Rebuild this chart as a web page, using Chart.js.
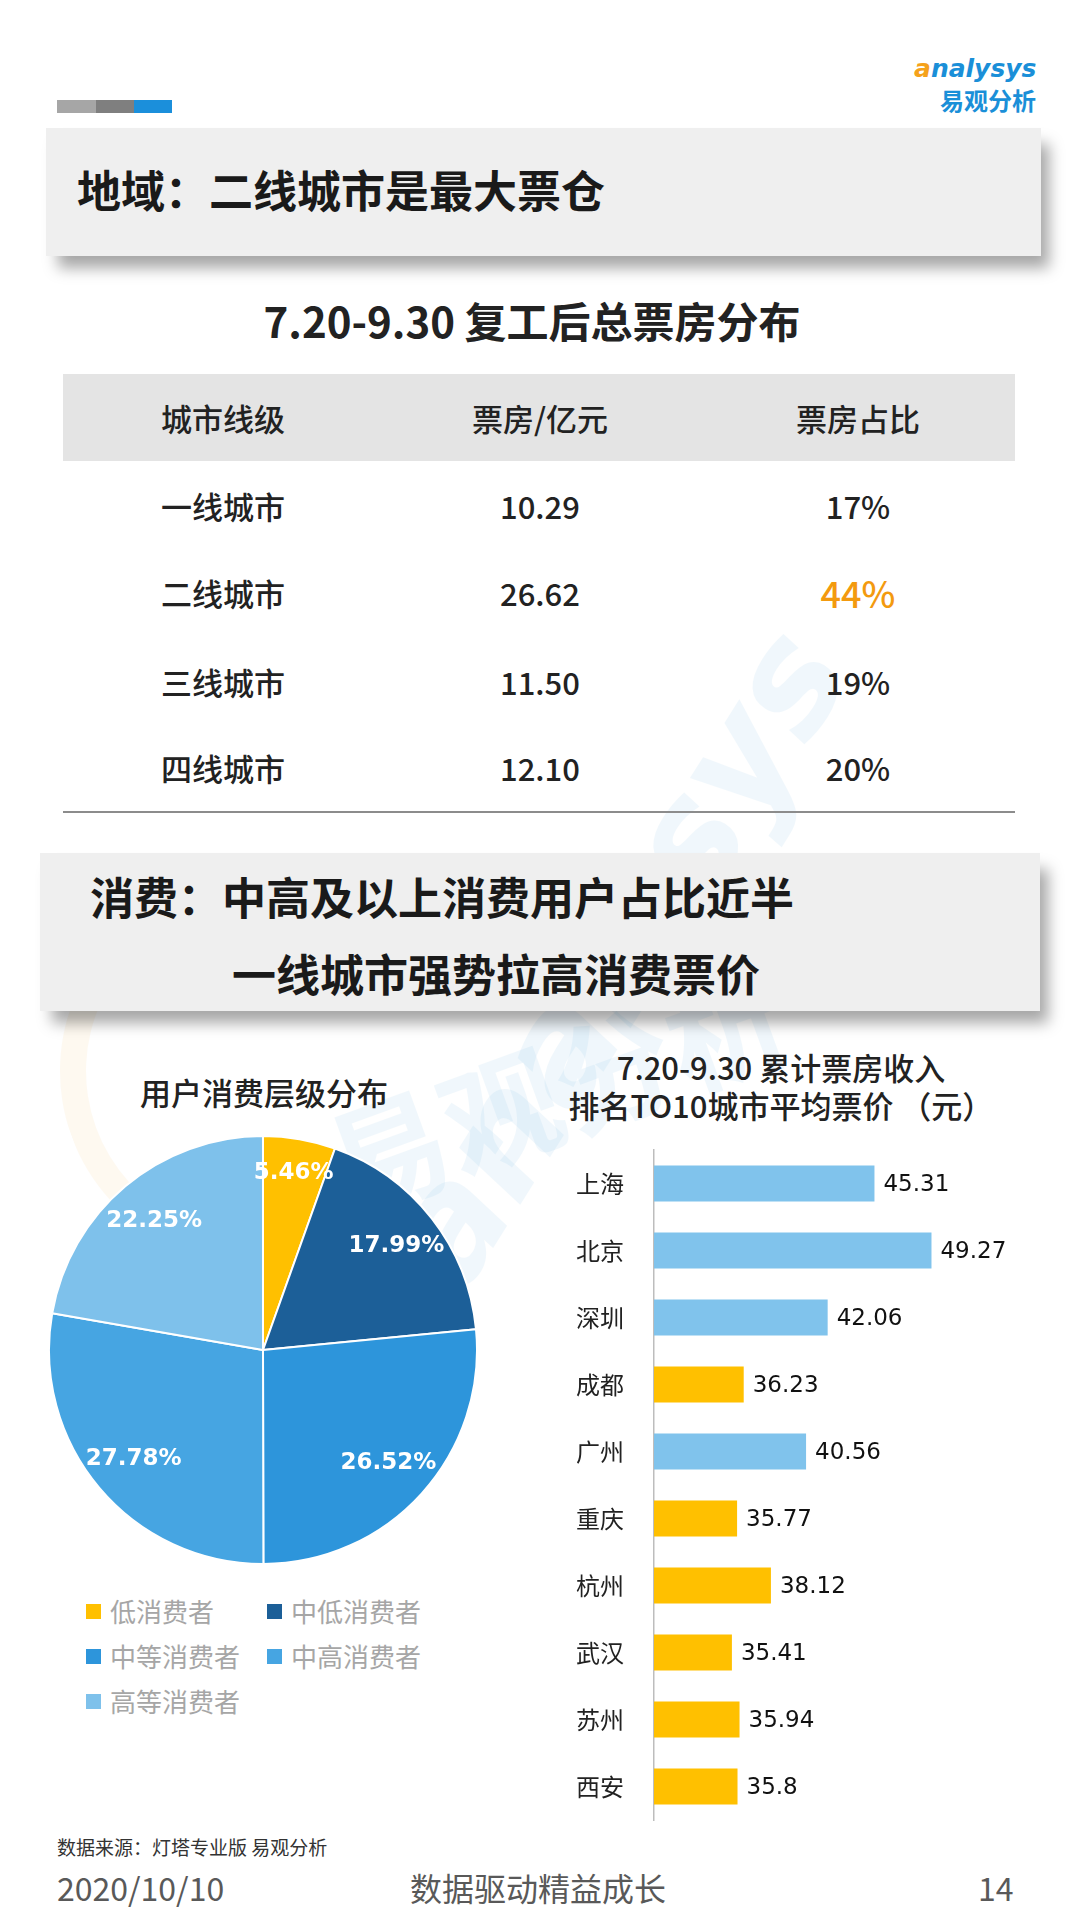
<!DOCTYPE html>
<html>
<head>
<meta charset="utf-8">
<script src="https://cdn.jsdelivr.net/npm/chart.js@4.4.0/dist/chart.umd.min.js"></script>
<style>
  body { margin: 0; width: 1080px; height: 1920px; background: #fff; position: relative; overflow: hidden;
         font-family: "Noto Sans CJK SC", "Noto Sans", sans-serif; color: #222; }
  .abs { position: absolute; }
  .bar-seg { position: absolute; top: 100px; height: 13px; }
  .head-box { position: absolute; background: #efefef; box-shadow: 10px 14px 14px -2px rgba(0,0,0,0.35); }
  .head-text { position: absolute; font-size: 44px; font-weight: 700; color: #1a1a1a; white-space: nowrap; line-height: 1; }
  .cell { position: absolute; width: 260px; margin-left: -130px; text-align: center; font-size: 31px; font-weight: 500; line-height: 1; }
  .wm { position: absolute; color: #3c9ddc; opacity: 0.07; font-weight: 700; white-space: nowrap; transform-origin: left center; }
  #legend { position: absolute; left: 86px; top: 1597px; display: grid; grid-template-columns: 181px 200px; row-gap: 17px; }
  #legend div { font-size: 26px; color: #a6a6a6; line-height: 28px; white-space: nowrap; }
  #legend span { display: inline-block; width: 15px; height: 15px; margin-right: 9px; vertical-align: 3px; }
  .foot { position: absolute; color: #595959; white-space: nowrap; line-height: 1; }
</style>
</head>
<body>

<!-- top decoration -->
<div class="bar-seg" style="left:57px;width:39px;background:#a6a6a6"></div>
<div class="bar-seg" style="left:96px;width:38px;background:#7f7f7f"></div>
<div class="bar-seg" style="left:134px;width:38px;background:#1b8fdb"></div>
<div class="abs" style="left:914px;top:56px;font:italic 700 25px 'DejaVu Sans',sans-serif;line-height:1;white-space:nowrap"><span style="color:#f5a21b">a</span><span style="color:#1a8fd8">nalysys</span></div>
<div class="abs" style="left:940px;top:88px;font-size:24px;font-weight:700;color:#1a8fd8;line-height:1;white-space:nowrap">易观分析</div>

<!-- watermark -->
<div class="wm" style="left:420px;top:1180px;font:italic 700 150px 'DejaVu Sans',sans-serif;transform:rotate(-58deg)">analysys</div>
<div class="wm" style="left:330px;top:1080px;font-size:120px;transform:rotate(-20deg)">易观分析</div>
<div class="abs" style="left:60px;top:880px;width:330px;height:330px;border-radius:50%;border:26px solid #f7b441;opacity:0.07;border-right-color:transparent;border-bottom-color:transparent;transform:rotate(-20deg)"></div>

<!-- section 1 -->
<div class="head-box" style="left:46px;top:128px;width:995px;height:128px"></div>
<div class="head-text" style="left:77px;top:167px">地域：二线城市是最大票仓</div>
<div class="abs" style="left:0;width:1064px;top:299px;text-align:center;font-size:42px;font-weight:700;line-height:1;white-space:nowrap">7.20-9.30 复工后总票房分布</div>

<div class="abs" style="left:63px;top:374px;width:952px;height:87px;background:#e4e4e4"></div>
<div id="table"></div>
<div class="abs" style="left:63px;top:811px;width:952px;height:2px;background:#8c8c8c"></div>

<!-- section 2 -->
<div class="head-box" style="left:40px;top:853px;width:1000px;height:158px"></div>
<div class="head-text" style="left:90px;top:874px">消费：中高及以上消费用户占比近半</div>
<div class="head-text" style="left:232px;top:951px">一线城市强势拉高消费票价</div>

<!-- pie -->
<div class="abs" style="left:0;width:528px;top:1076px;text-align:center;font-size:31px;font-weight:500;line-height:1;white-space:nowrap">用户消费层级分布</div>
<div class="abs" style="left:48px;top:1135px;width:430px;height:430px"><canvas id="pie"></canvas></div>
<div id="legend"></div>

<!-- bar -->
<div class="abs" style="left:560px;width:442px;top:1048px;text-align:center;font-size:31px;font-weight:500;line-height:38px;white-space:nowrap;color:#222">7.20-9.30 累计票房收入<br>排名TO10城市平均票价 （元）</div>
<div class="abs" style="left:560px;top:1140px;width:480px;height:690px"><canvas id="bar"></canvas></div>

<!-- footer -->
<div class="foot" style="left:57px;top:1837px;font-size:19px;color:#333">数据来源：灯塔专业版 易观分析</div>
<div class="foot" style="left:57px;top:1871px;font-size:32px">2020/10/10</div>
<div class="foot" style="left:0;width:1076px;top:1871px;font-size:32px;text-align:center">数据驱动精益成长</div>
<div class="foot" style="left:978px;top:1871px;font-size:32px">14</div>

<script>
// ---- table data ----
var tierNames = ['一线城市', '二线城市', '三线城市', '四线城市'];
var tierBoxOffice = ['10.29', '26.62', '11.50', '12.10'];
var tierShare = ['17%', '44%', '19%', '20%'];
var tableHeader = ['城市线级', '票房/亿元', '票房占比'];

// ---- pie data ----
var pieLabels = ['低消费者', '中低消费者', '中等消费者', '中高消费者', '高等消费者'];
var pieValues = [5.46, 17.99, 26.52, 27.78, 22.25];

// ---- bar data ----
var cities = ['上海', '北京', '深圳', '成都', '广州', '重庆', '杭州', '武汉', '苏州', '西安'];
var avgPrice = [45.31, 49.27, 42.06, 36.23, 40.56, 35.77, 38.12, 35.41, 35.94, 35.8];
var firstTierCities = ['上海', '北京', '深圳', '广州'];

var pieColors = ['#ffc000', '#1c5f98', '#2d95db', '#46a5e2', '#7ec1eb'];
var colX = [223, 540, 858];
var rowY = [490, 577, 666, 752];

// ====================================
// Table
// ====================================
var table = document.getElementById('table');
var html = '';
tableHeader.forEach(function(h, i) {
    html += '<div class="cell" style="left:' + colX[i] + 'px;top:402px">' + h + '</div>';
});
tierNames.forEach(function(name, r) {
    var big = tierShare[r] === '44%';
    html += '<div class="cell" style="left:' + colX[0] + 'px;top:' + rowY[r] + 'px">' + name + '</div>';
    html += '<div class="cell" style="left:' + colX[1] + 'px;top:' + rowY[r] + 'px">' + tierBoxOffice[r] + '</div>';
    html += '<div class="cell" style="left:' + colX[2] + 'px;top:' + (big ? rowY[r] - 3 : rowY[r]) + 'px;' +
        (big ? 'color:#f39a0f;font-size:36px;' : '') + '">' + tierShare[r] + '</div>';
});
table.innerHTML = html;

// ====================================
// Pie legend
// ====================================
var legend = document.getElementById('legend');
legend.innerHTML = pieLabels.map(function(l, i) {
    return '<div><span style="background:' + pieColors[i] + '"></span>' + l + '</div>';
}).join('');

// ====================================
// Pie chart
// ====================================
var pieLabelPlugin = {
    id: 'pieLabelPlugin',
    afterDatasetsDraw: function(chart) {
        var ctx = chart.ctx;
        var meta = chart.getDatasetMeta(0);
        ctx.save();
        ctx.fillStyle = '#fff';
        ctx.font = 'bold 23px "DejaVu Sans", sans-serif';
        ctx.textAlign = 'center';
        ctx.textBaseline = 'middle';
        meta.data.forEach(function(arc, i) {
            var p = arc.getProps(['x', 'y', 'startAngle', 'endAngle', 'outerRadius'], true);
            var mid = (p.startAngle + p.endAngle) / 2;
            var r = p.outerRadius * (pieValues[i] < 10 ? 0.84 : 0.79);
            ctx.fillText(pieValues[i].toFixed(2) + '%', p.x + Math.cos(mid) * r, p.y + Math.sin(mid) * r);
        });
        ctx.restore();
    }
};

new Chart(document.getElementById('pie'), {
    type: 'pie',
    data: {
        labels: pieLabels,
        datasets: [{
            data: pieValues,
            backgroundColor: pieColors,
            borderColor: '#fff',
            borderWidth: 2
        }]
    },
    options: {
        responsive: true,
        maintainAspectRatio: false,
        animation: false,
        plugins: { legend: { display: false }, tooltip: { enabled: false } }
    },
    plugins: [pieLabelPlugin]
});

// ====================================
// Bar chart
// ====================================
var barValuePlugin = {
    id: 'barValuePlugin',
    afterDatasetsDraw: function(chart) {
        var ctx = chart.ctx;
        var meta = chart.getDatasetMeta(0);
        ctx.save();
        ctx.fillStyle = '#111';
        ctx.font = '23px "DejaVu Sans", sans-serif';
        ctx.textAlign = 'left';
        ctx.textBaseline = 'middle';
        meta.data.forEach(function(bar, i) {
            ctx.fillText(String(avgPrice[i]), bar.x + 9, bar.y + 2);
        });
        ctx.restore();
    }
};

new Chart(document.getElementById('bar'), {
    type: 'bar',
    data: {
        labels: cities,
        datasets: [{
            data: avgPrice,
            backgroundColor: cities.map(function(c) {
                return firstTierCities.indexOf(c) >= 0 ? '#80c3ec' : '#ffc000';
            }),
            barPercentage: 0.54,
            categoryPercentage: 1
        }]
    },
    options: {
        indexAxis: 'y',
        responsive: true,
        maintainAspectRatio: false,
        animation: false,
        layout: { padding: { top: 10, bottom: 10, right: 26 } },
        plugins: { legend: { display: false }, tooltip: { enabled: false } },
        scales: {
            x: { display: false, min: 30, max: 55 },
            y: {
                afterFit: function(scale) {
                    scale.width = 94;
                    // tick padding should not push the plot area inward vertically
                    scale.paddingTop = 0;
                    scale.paddingBottom = 0;
                },
                grid: { display: false, drawTicks: false },
                border: { display: true, color: '#bdbdbd', width: 1.5 },
                ticks: {
                    padding: 30,
                    color: '#222',
                    font: { size: 24, family: '"Noto Sans CJK SC", sans-serif' }
                }
            }
        }
    },
    plugins: [barValuePlugin]
});
</script>
</body>
</html>
